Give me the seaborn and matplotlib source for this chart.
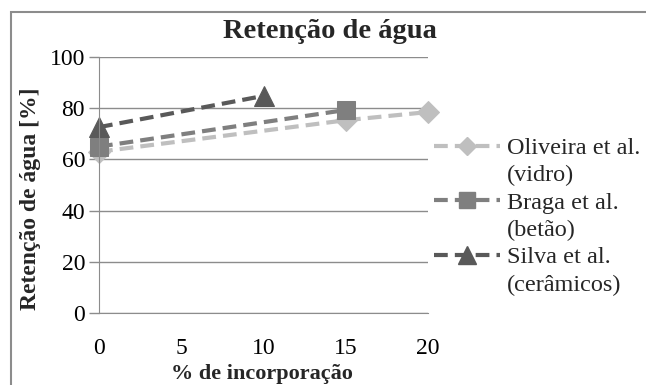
import matplotlib
matplotlib.use("Agg")
import matplotlib.pyplot as plt
import seaborn as sns
import pandas as pd
from matplotlib.patches import Rectangle
from matplotlib.lines import Line2D

sns.set_style("white")
plt.rcParams['font.family'] = ['Liberation Serif', 'DejaVu Serif']

# Data
oliveira_x = [0, 15, 20]
oliveira_y = [63, 75.3, 78.5]
braga_x = [0, 15]
braga_y = [65, 79.3]
silva_x = [0, 10]
silva_y = [72.6, 84.8]

series_first = ["Oliveira et al.", "Braga et al.", "Silva et al."]
series_second = ["(vidro)", "(betão)", "(cerâmicos)"]
series_x = [oliveira_x, braga_x, silva_x]
series_y = [oliveira_y, braga_y, silva_y]
colors = ["#bfbfbf", "#7f7f7f", "#595959"]
markers = ["D", "s", "^"]
msizes = [11, 13, 15]

title = "Retenção de água"
xlabel = "% de incorporação"
ylabel = "Retenção de água [%]"
xticks = [0, 5, 10, 15, 20]
yticks = [0, 20, 40, 60, 80, 100]

fig = plt.figure(figsize=(6.46, 3.85), dpi=100)
ax = fig.add_axes([99/646, 1-313/385, (428-99)/646, (313-57)/385])

dash = (0, (3.3, 1.7))
for name, xs, ys, c, m, ms in zip(series_first, series_x, series_y, colors, markers, msizes):
    df = pd.DataFrame({"x": xs, "y": ys})
    sns.lineplot(data=df, x="x", y="y", ax=ax, color=c, marker=m, markersize=ms,
                 markeredgecolor=c, linewidth=3, linestyle=dash, legend=False,
                 clip_on=False)

ax.set_xlim(0, 20)
ax.set_ylim(0, 100)
ax.set_xticks(xticks)
ax.set_yticks(yticks)
ax.tick_params(axis='both', labelsize=17, colors='black')
ax.tick_params(axis='y', length=7, width=1, color='#8c8c8c', direction='out', pad=3, left=True)
ax.tick_params(axis='x', length=0, pad=18)
ax.grid(axis='y', color='#8c8c8c', linewidth=1)
ax.grid(axis='x', visible=False)
for s in ['top', 'right']:
    ax.spines[s].set_visible(False)
ax.spines['left'].set_color('#8c8c8c')
ax.spines['bottom'].set_color('#8c8c8c')
ax.set_xlabel("")
ax.set_ylabel("")

fig.text(262/646, 0.5/385, xlabel, ha='center', va='bottom', fontsize=16, fontweight='bold')
fig.text(31/646, 1-199/385, ylabel, ha='center', va='center', rotation=90,
         fontsize=17, fontweight='bold')
fig.text(330/646, 1-31/385, title, ha='center', va='center', fontsize=20.5, fontweight='bold')

handles, labels = [], []
for first, second, c, m, ms in zip(series_first, series_second, colors, markers, msizes):
    handles.append(Line2D([], [], color=c, marker=m, markersize=ms*0.85, markeredgecolor=c,
                          linewidth=3, linestyle=dash))
    labels.append(first)
    handles.append(Line2D([], [], color='none'))
    labels.append(second)

leg = ax.legend(handles, labels, loc='upper left', bbox_to_anchor=(434/646, 1-137/385),
                bbox_transform=fig.transFigure,
                frameon=False, fontsize=17.5, handlelength=2.7, handletextpad=0.3,
                labelspacing=0.22, borderpad=0, borderaxespad=0)

fig.patches.append(Rectangle((11/646, -0.1), 1.2, 1-12/385+0.1, transform=fig.transFigure,
                             fill=False, edgecolor='#8c8c8c', linewidth=1.5))

fig.savefig("out.png", dpi=100)
